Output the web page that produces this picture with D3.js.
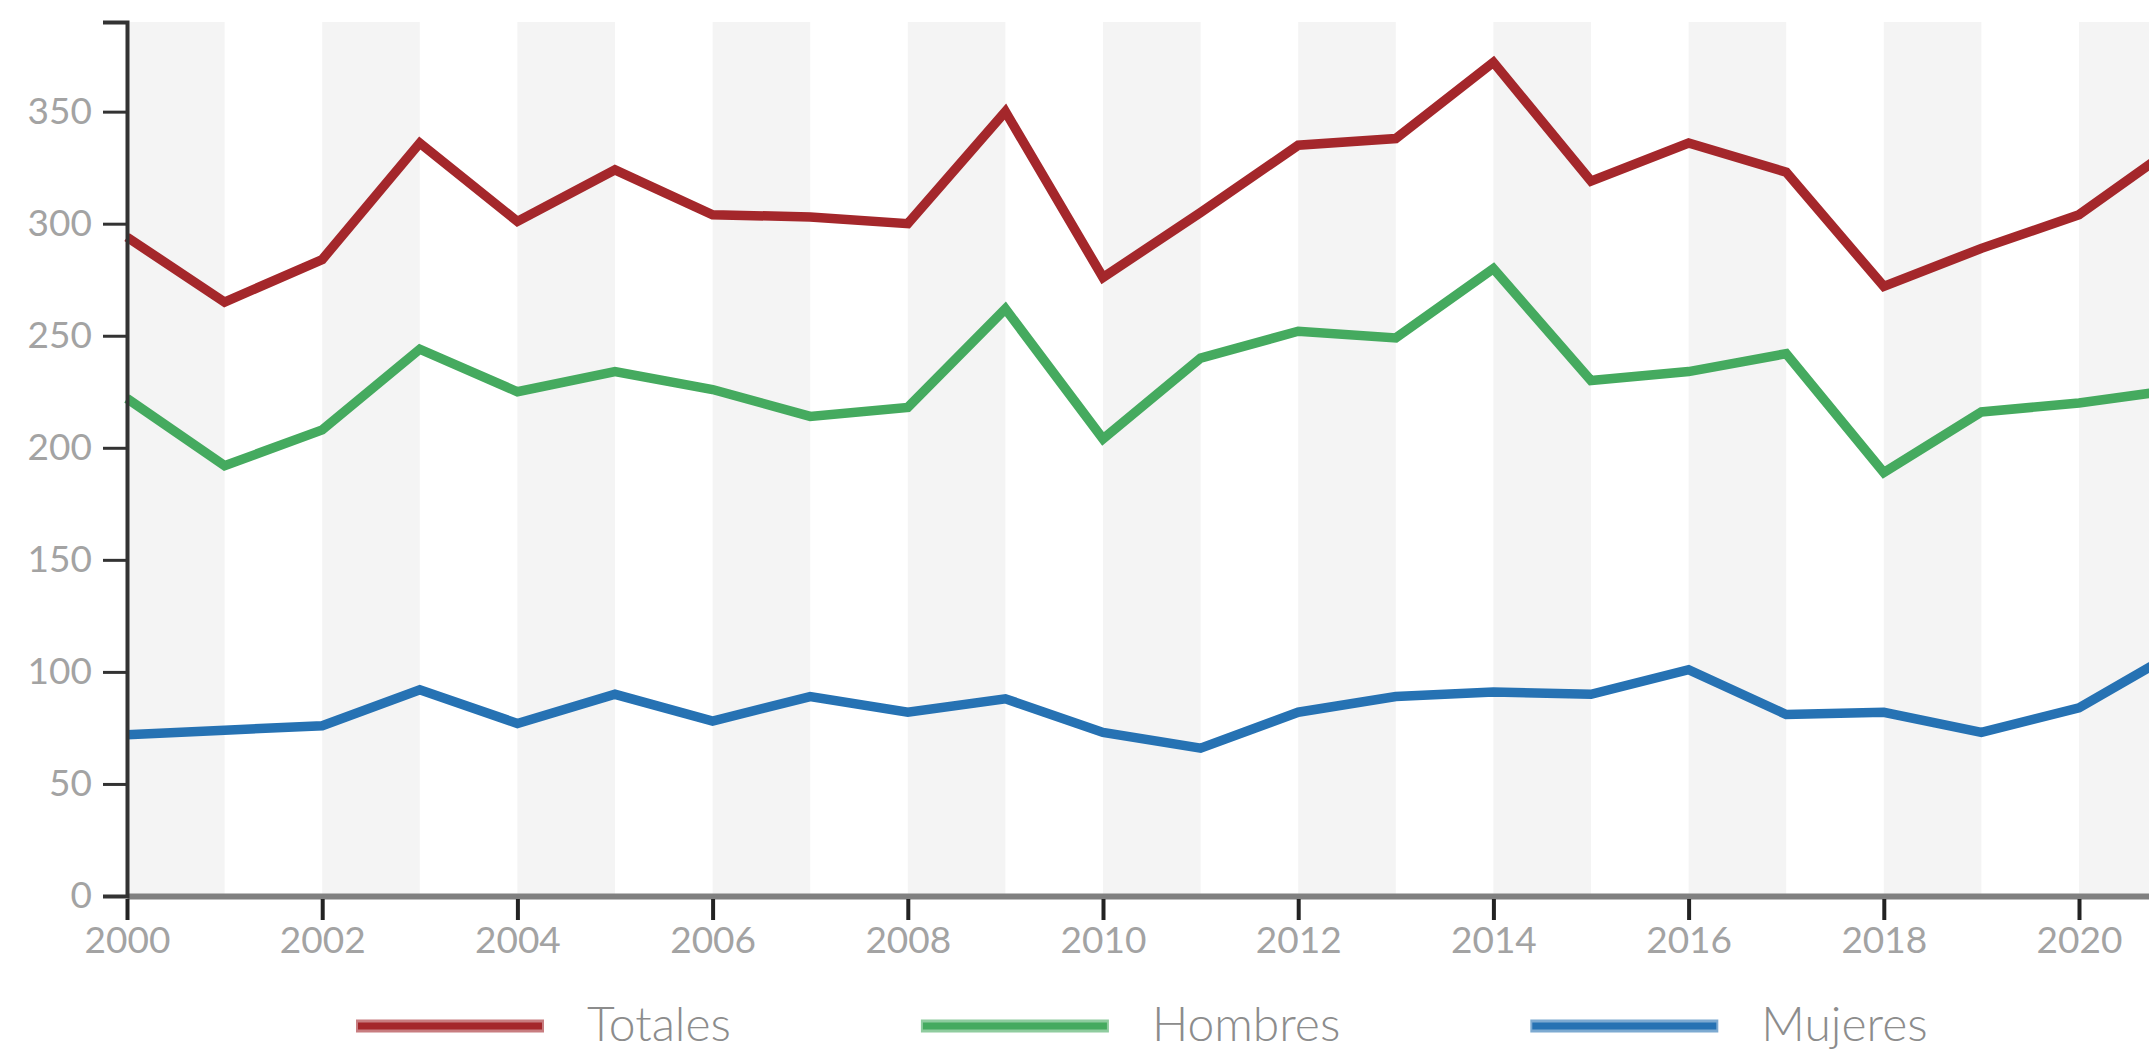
<!DOCTYPE html>
<html>
<head>
<meta charset="utf-8">
<script src="https://cdn.jsdelivr.net/npm/d3@7"></script>
<style>
  html, body { margin: 0; padding: 0; background: #fff; overflow: hidden; }
  svg { display: block; }
</style>
</head>
<body>
<svg id="chart" width="2149" height="1052"></svg>
<script>
const years = [2000, 2001, 2002, 2003, 2004, 2005, 2006, 2007, 2008, 2009, 2010,
               2011, 2012, 2013, 2014, 2015, 2016, 2017, 2018, 2019, 2020, 2021];
const totales = [294, 265, 284, 336, 301, 324, 304, 303, 300, 350, 276,
                 305, 335, 338, 372, 319, 336, 323, 272, 289, 304, 335];
const hombres = [222, 192, 208, 244, 225, 234, 226, 214, 218, 262, 204,
                 240, 252, 249, 280, 230, 234, 242, 189, 216, 220, 226];
const mujeres = [72, 74, 76, 92, 77, 90, 78, 89, 82, 88, 73,
                 66, 82, 89, 91, 90, 101, 81, 82, 73, 84, 109];
const seriesNames = ["Totales", "Hombres", "Mujeres"];
const seriesColors = ["#a4272b", "#45aa5f", "#2672b3"];
const yTicks = [0, 50, 100, 150, 200, 250, 300, 350];
const xTicks = [2000, 2002, 2004, 2006, 2008, 2010, 2012, 2014, 2016, 2018, 2020];

(function () {
  const series = [totales, hombres, mujeres].map((vals, i) => ({
    name: seriesNames[i], color: seriesColors[i],
    values: vals.map((v, j) => ({ year: years[j], value: v }))
  }));

  const svg = d3.select("#chart");
  const mLeft = 127, mTop = 22, mBottom = 896;
  const x = d3.scaleLinear().domain([2000, 2022]).range([mLeft, mLeft + 22 * 97.6]);
  const y = d3.scaleLinear().domain([0, 390]).range([mBottom, mTop]);

  // alternating background bands (even years)
  const bandYears = d3.range(2000, 2022, 2);
  svg.append("g").selectAll("rect").data(bandYears).join("rect")
    .attr("x", d => x(d))
    .attr("y", y(390))
    .attr("width", d => x(d + 1) - x(d))
    .attr("height", y(0) - y(390))
    .attr("fill", "#f4f4f4");

  // lines
  const line = d3.line().x(d => x(d.year)).y(d => y(d.value));
  svg.append("g").selectAll("path").data(series).join("path")
    .attr("d", d => line(d.values))
    .attr("fill", "none")
    .attr("stroke", d => d.color)
    .attr("stroke-width", 9.5)
    .attr("stroke-linejoin", "miter");

  // x axis
  const xAxis = svg.append("g")
    .attr("transform", `translate(0,${mBottom})`)
    .call(d3.axisBottom(x).tickValues(xTicks).tickFormat(d3.format("d"))
      .tickSize(24).tickSizeOuter(0).tickPadding(7));
  xAxis.select(".domain").attr("stroke", "#808080").attr("stroke-width", 6);
  xAxis.selectAll(".tick line").attr("stroke", "#222").attr("stroke-width", 4).attr("y1", 3);
  xAxis.selectAll(".tick text")
    .attr("fill", "#a3a3a3")
    .style("font-family", "Lato, 'Open Sans', sans-serif")
    .style("font-size", "37px");

  // y axis
  const yAxis = svg.append("g")
    .attr("transform", `translate(${mLeft},0)`)
    .call(d3.axisLeft(y).tickValues(yTicks).tickSize(24).tickSizeOuter(24).tickPadding(11));
  yAxis.select(".domain").attr("stroke", "#333").attr("stroke-width", 4).attr("fill", "none");
  yAxis.selectAll(".tick line").attr("stroke", "#333").attr("stroke-width", 3);
  yAxis.selectAll(".tick text")
    .attr("fill", "#a3a3a3")
    .style("font-family", "Lato, 'Open Sans', sans-serif")
    .style("font-size", "37px");

  // legend
  const legend = svg.append("g");
  let lx = 356;
  const ly = 1026;
  series.forEach(s => {
    const g = legend.append("g");
    g.append("rect").attr("x", lx).attr("y", ly - 6.5).attr("width", 188).attr("height", 13)
      .attr("fill", s.color).attr("opacity", 0.6);
    g.append("rect").attr("x", lx + 2).attr("y", ly - 3.5).attr("width", 184).attr("height", 7)
      .attr("fill", s.color);
    const t = g.append("text").attr("x", lx + 231).attr("y", 1041)
      .attr("fill", "#8c8c8c")
      .style("font-family", "Lato, 'Open Sans', sans-serif")
      .style("font-weight", 300)
      .style("font-size", "48px")
      .text(s.name);
    lx = lx + 231 + t.node().getComputedTextLength() + 190;
  });
})();
</script>
</body>
</html>
